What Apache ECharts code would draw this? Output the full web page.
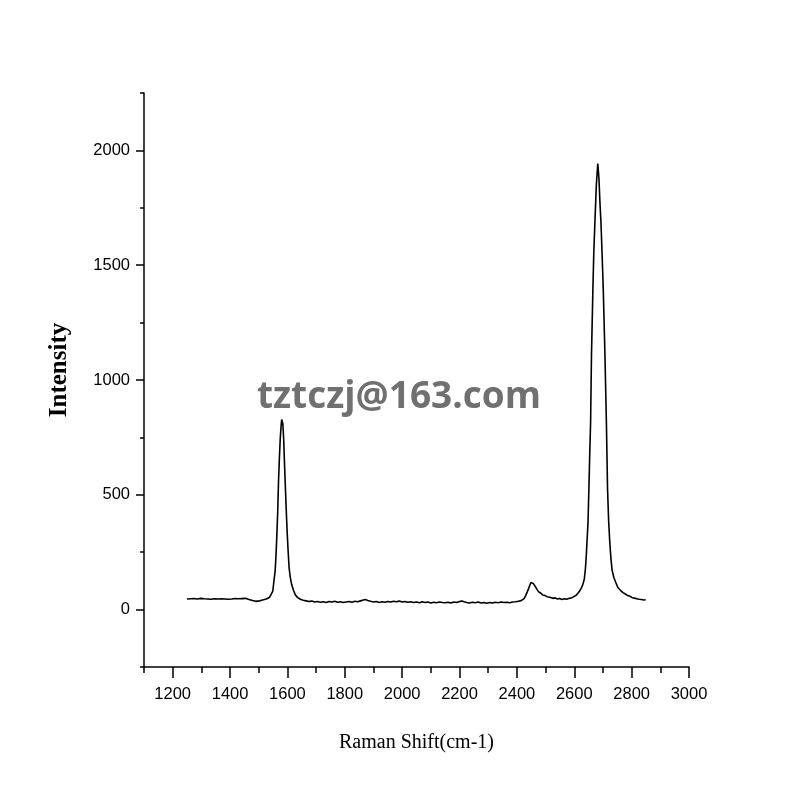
<!DOCTYPE html>
<html>
<head>
<meta charset="utf-8">
<script src="https://cdn.jsdelivr.net/npm/echarts@6/dist/echarts.min.js"></script>
<style>html,body{margin:0;padding:0;background:#fff}#c{width:800px;height:800px}</style>
</head>
<body>
<div id="c"></div>
<script>
// Segment A: baseline + G peak
var shiftA = [1250,1256,1262,1268,1274,1280,1286,1292,1298,1304,1310,1316,1322,1328,1334,1340,1346,1352,1358,1364,1370,1376,1382,1388,1394,1400,1406,1412,1418,1424,1430,1436,1442,1448,1454,1460,1466,1472,1478,1484,1490,1496,1502,1508,1514,1520,1526,1532,1538,1544,1549,1553,1557,1560,1563,1566,1569,1572,1575,1578,1580,1582,1584,1587,1590,1593,1596,1599,1602,1606,1610,1615,1621,1628,1636,1645,1655];
var intA   = [46,42,47,44,48,43,46,45,49,44,47,43,46,48,45,50,47,51,46,49,47,52,46,48,45,49,46,44,48,45,47,44,48,46,49,45,44,42,40,38,36,35,38,40,42,44,46,48,54,62,80,125,165,230,320,420,560,660,745,800,828,832,810,740,630,530,430,340,265,180,140,108,84,63,52,45,41];
// Segment B: flat region
var shiftB = [1665,1675,1685,1695,1705,1715,1725,1735,1745,1755,1765,1775,1785,1795,1805,1815,1825,1835,1845,1855,1865,1872,1880,1890,1900,1910,1920,1930,1940,1950,1960,1970,1980,1990,2000,2010,2020,2030,2040,2050,2060,2070,2080,2090,2100,2110,2120,2130,2140,2150,2160,2170,2180,2190,2200,2208,2216,2225,2235,2245,2255,2265,2275,2285,2295,2305,2315,2325,2335,2345,2355,2365,2375,2385,2395,2405,2415];
var intB   = [38,35,37,33,35,32,34,31,35,33,36,32,34,31,33,35,32,36,34,38,42,44,40,36,33,35,31,34,32,35,33,36,34,37,33,35,32,34,31,33,30,34,31,33,29,32,30,33,31,30,32,29,33,31,35,37,34,31,29,32,30,33,29,31,28,31,29,32,30,33,31,32,30,33,34,36,39];
// Segment C: 2450 band + 2D peak
var shiftC = [2420,2425,2430,2436,2441,2445,2449,2453,2457,2461,2465,2470,2476,2483,2490,2498,2506,2515,2525,2533,2541,2549,2557,2565,2573,2580,2588,2595,2601,2607,2612,2618,2625,2630,2635,2639,2642,2645,2648,2651,2654,2657,2660,2665,2668,2672,2677,2682,2686,2690,2693,2697,2701,2707,2712,2716,2720,2724,2728,2732,2738,2744,2752,2761,2770,2778,2786,2794,2802,2810,2818,2826,2834,2842,2849];
var intC   = [42,48,60,77,92,106,118,124,114,106,99,88,77,72,64,61,56,54,49,51,46,48,44,47,45,48,50,54,58,63,70,80,95,110,132,180,237,310,382,527,680,817,1108,1399,1550,1689,1850,1943,1880,1760,1689,1550,1399,1108,817,527,382,290,220,171,140,120,96,84,74,68,61,58,52,50,47,45,44,42,43];

var xName = 'Raman Shift(cm-1)';
var yName = 'Intensity';
var watermark = 'tztczj@163.com';

var data = [];
[[shiftA,intA],[shiftB,intB],[shiftC,intC]].forEach(function(p){
  for (var i=0;i<p[0].length;i++) data.push([p[0][i], p[1][i]]);
});

var labelFont = '"Liberation Sans",Arial,sans-serif';
var serif = '"Liberation Serif","Times New Roman",serif';
var black = '#000';
function plain(v){ return String(v); }

var chart = echarts.init(document.getElementById('c'), null, {renderer:'canvas'});
chart.setOption({
  animation:false,
  backgroundColor:'#fff',
  grid:[
    {left:144, right:111, top:93, bottom:133},
    {left:144 + 545*100/1900, right:111, top:93, bottom:133},
    {left:144, right:111, top:93 + 574*250/2500, bottom:133 + 574*250/2500}
  ],
  xAxis:[
    {gridIndex:0, type:'value', min:1100, max:3000, interval:100,
     name:xName, nameLocation:'middle', nameGap:66,
     nameTextStyle:{fontFamily:serif, fontSize:20, color:black},
     axisLine:{show:true, onZero:false, lineStyle:{color:black, width:1.5}},
     axisTick:{show:true, length:6, inside:false, lineStyle:{color:black, width:1.5}},
     axisLabel:{show:false}, splitLine:{show:false}},
    {gridIndex:1, type:'value', min:1200, max:3000, interval:200,
     axisLine:{show:false, onZero:false},
     axisTick:{show:true, length:11, inside:false, lineStyle:{color:black, width:1.5}},
     axisLabel:{show:true, margin:19, color:black, fontFamily:labelFont, fontSize:16.5, formatter:plain},
     splitLine:{show:false}},
    {gridIndex:2, type:'value', min:1100, max:3000, show:false, axisLine:{onZero:false}}
  ],
  yAxis:[
    {gridIndex:0, type:'value', min:-250, max:2250, interval:250,
     name:yName, nameLocation:'middle', nameGap:72,
     nameTextStyle:{fontFamily:serif, fontSize:25, fontWeight:'bold', color:black, padding:[0,0,0,20]},
     axisLine:{show:true, onZero:false, lineStyle:{color:black, width:1.5}},
     axisTick:{show:true, length:4, inside:false, lineStyle:{color:black, width:1.5}},
     axisLabel:{show:false}, splitLine:{show:false}},
    {gridIndex:1, type:'value', min:-250, max:2250, show:false, axisLine:{onZero:false}},
    {gridIndex:2, type:'value', min:0, max:2000, interval:500,
     axisLine:{show:false, onZero:false},
     axisTick:{show:true, length:8, inside:false, lineStyle:{color:black, width:1.5}},
     axisLabel:{show:true, margin:14, color:black, fontFamily:labelFont, fontSize:16.5, formatter:plain},
     splitLine:{show:false}}
  ],
  series:[{
    type:'line', xAxisIndex:0, yAxisIndex:0, data:data,
    showSymbol:false, symbol:'none', smooth:false,
    lineStyle:{color:black, width:1.6}, z:3
  }],
  graphic:[{
    type:'text', x:399, y:397, z:100,
    style:{text:watermark, fontFamily:'"Open Sans",sans-serif', fontSize:37, fontWeight:'bold',
           fill:'#707070', align:'center', verticalAlign:'middle', textAlign:'center', textVerticalAlign:'middle'}
  }]
});
</script>
</body>
</html>
